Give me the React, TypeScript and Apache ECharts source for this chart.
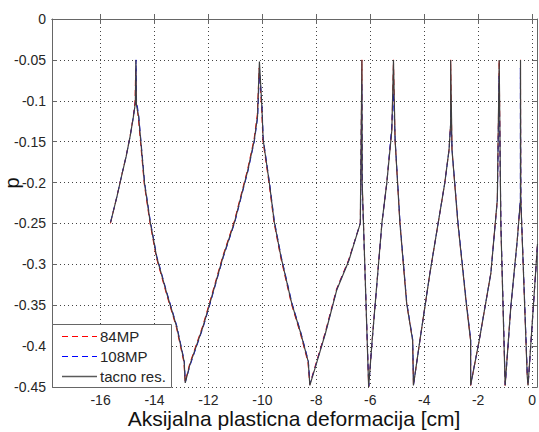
import React, { useEffect, useRef } from "react";
import * as echarts from "echarts";

const X_MIN = -17.8;
const X_MAX = 0.2;
const Y_MIN = -0.45;
const Y_MAX = 0;
const xTickValues = [-16, -14, -12, -10, -8, -6, -4, -2, 0];
const xTitle = "Aksijalna plasticna deformacija [cm]";
const yTitle = "p";
const legendNames = ["84MP", "108MP", "tacno res."];

const tacno: number[][] = [
  [-15.63, -0.249], [-15.39, -0.217], [-15.2, -0.189], [-15.05, -0.168], [-14.9, -0.143], [-14.78, -0.119],
  [-14.71, -0.103], [-14.69, -0.05], [-14.67, -0.105], [-14.59, -0.119], [-14.37, -0.201],
  [-14.16, -0.248], [-13.92, -0.291], [-13.55, -0.335], [-13.18, -0.376], [-12.9, -0.419],
  [-12.86, -0.445], [-12.69, -0.423], [-12.2, -0.376], [-11.95, -0.348], [-11.46, -0.291],
  [-11.03, -0.248], [-10.79, -0.217], [-10.54, -0.185], [-10.3, -0.148], [-10.18, -0.119],
  [-10.11, -0.052], [-10.02, -0.107], [-9.97, -0.148], [-9.74, -0.201], [-9.56, -0.248],
  [-9.31, -0.291], [-8.91, -0.348], [-8.58, -0.384], [-8.3, -0.419], [-8.24, -0.448],
  [-8.03, -0.425], [-7.66, -0.384], [-7.24, -0.331], [-6.8, -0.296], [-6.37, -0.25],
  [-6.31, -0.05], [-6.3, -0.2], [-6.06, -0.45], [-5.94, -0.397], [-5.57, -0.25],
  [-5.39, -0.201], [-5.2, -0.136], [-5.14, -0.05], [-5.08, -0.148], [-4.9, -0.25],
  [-4.65, -0.348], [-4.43, -0.393], [-4.4, -0.448], [-4.16, -0.393], [-3.79, -0.311],
  [-3.24, -0.201], [-3.08, -0.16], [-3.02, -0.128], [-3.02, -0.05], [-2.97, -0.16],
  [-2.75, -0.25], [-2.44, -0.348], [-2.28, -0.393], [-2.28, -0.448], [-1.96, -0.393],
  [-1.53, -0.311], [-1.29, -0.221], [-1.22, -0.05], [-1.16, -0.25], [-1.0, -0.448],
  [-0.79, -0.352], [-0.55, -0.27], [-0.43, -0.221], [-0.43, -0.05], [-0.42, -0.22],
  [-0.18, -0.437], [-0.15, -0.448], [0.16, -0.295], [0.2, -0.275],
];

const mp84: number[][] = [
  [-15.635, -0.25], [-15.4, -0.218], [-15.21, -0.19], [-15.06, -0.169], [-14.91, -0.144], [-14.79, -0.12],
  [-14.72, -0.1], [-14.7, -0.06], [-14.68, -0.1], [-14.6, -0.121], [-14.38, -0.202],
  [-14.17, -0.249], [-13.93, -0.292], [-13.56, -0.336], [-13.19, -0.377], [-12.91, -0.42],
  [-12.865, -0.444], [-12.7, -0.422], [-12.21, -0.375], [-11.96, -0.347], [-11.47, -0.29],
  [-11.04, -0.247], [-10.8, -0.216], [-10.55, -0.184], [-10.31, -0.147], [-10.19, -0.117],
  [-10.12, -0.06], [-10.03, -0.108], [-9.98, -0.149], [-9.75, -0.202], [-9.57, -0.249],
  [-9.32, -0.292], [-8.92, -0.349], [-8.59, -0.385], [-8.31, -0.42], [-8.245, -0.447],
  [-8.04, -0.424], [-7.67, -0.383], [-7.25, -0.33], [-6.81, -0.295], [-6.37, -0.25],
  [-6.31, -0.05], [-6.3, -0.2], [-6.06, -0.45], [-5.94, -0.397], [-5.57, -0.25],
  [-5.39, -0.201], [-5.2, -0.136], [-5.14, -0.05], [-5.08, -0.148], [-4.9, -0.25],
  [-4.65, -0.348], [-4.43, -0.393], [-4.4, -0.448], [-4.16, -0.393], [-3.79, -0.311],
  [-3.24, -0.201], [-3.08, -0.16], [-3.02, -0.128], [-3.02, -0.05], [-2.97, -0.16],
  [-2.75, -0.25], [-2.44, -0.348], [-2.28, -0.393], [-2.28, -0.448], [-1.96, -0.393],
  [-1.53, -0.311], [-1.29, -0.221], [-1.22, -0.05], [-1.16, -0.25], [-1.0, -0.448],
  [-0.79, -0.352], [-0.55, -0.27], [-0.43, -0.221], [-0.43, -0.05], [-0.42, -0.22],
  [-0.18, -0.437], [-0.15, -0.448], [0.16, -0.295], [0.2, -0.275],
];

const mp108: number[][] = [
  [-15.625, -0.248], [-15.385, -0.216], [-15.195, -0.188], [-15.045, -0.167], [-14.895, -0.142], [-14.775, -0.118],
  [-14.7, -0.1], [-14.685, -0.05], [-14.665, -0.1], [-14.585, -0.118], [-14.365, -0.2],
  [-14.155, -0.247], [-13.915, -0.29], [-13.545, -0.334], [-13.175, -0.375], [-12.895, -0.418],
  [-12.855, -0.444], [-12.685, -0.424], [-12.195, -0.377], [-11.945, -0.349], [-11.455, -0.292],
  [-11.025, -0.249], [-10.785, -0.218], [-10.535, -0.186], [-10.295, -0.149], [-10.175, -0.12],
  [-10.105, -0.062], [-10.015, -0.106], [-9.965, -0.147], [-9.735, -0.2], [-9.555, -0.247],
  [-9.305, -0.29], [-8.905, -0.347], [-8.575, -0.383], [-8.295, -0.418], [-8.235, -0.446],
  [-8.025, -0.424], [-7.655, -0.383], [-7.235, -0.33], [-6.795, -0.295], [-6.365, -0.249],
  [-6.315, -0.08], [-6.295, -0.21], [-6.055, -0.449], [-5.935, -0.396], [-5.565, -0.249],
  [-5.385, -0.2], [-5.205, -0.132], [-5.145, -0.09], [-5.075, -0.149], [-4.895, -0.249],
  [-4.645, -0.347], [-4.425, -0.392], [-4.395, -0.447], [-4.155, -0.392], [-3.785, -0.31],
  [-3.235, -0.2], [-3.075, -0.159], [-3.025, -0.13], [-3.025, -0.11], [-2.965, -0.161],
  [-2.745, -0.249], [-2.435, -0.347], [-2.275, -0.392], [-2.275, -0.447], [-1.955, -0.392],
  [-1.525, -0.31], [-1.285, -0.22], [-1.225, -0.07], [-1.155, -0.251], [-0.995, -0.447],
  [-0.785, -0.351], [-0.545, -0.269], [-0.435, -0.22], [-0.435, -0.06], [-0.415, -0.221],
  [-0.175, -0.436], [-0.145, -0.447], [0.165, -0.294], [0.2, -0.276],
];

const FONT = "Liberation Sans, Arial, Helvetica, sans-serif";
const AXIS_COLOR = "#666666";
const TEXT_COLOR = "#262626";

export default function App() {
  const ref = useRef<HTMLDivElement>(null);

  useEffect(() => {
    if (!ref.current) return;
    const chart = echarts.init(ref.current, undefined, { renderer: "svg" });

    const baseX = {
      type: "value",
      min: X_MIN,
      max: X_MAX,
      gridIndex: 0,
      axisLine: { show: true, lineStyle: { color: AXIS_COLOR, width: 1 } },
      axisTick: { show: true, inside: true, length: 5, customValues: xTickValues, lineStyle: { color: AXIS_COLOR } },
      splitLine: { show: false },
    };
    const baseY = {
      type: "value",
      min: Y_MIN,
      max: Y_MAX,
      interval: 0.05,
      gridIndex: 0,
      axisLine: { show: true, onZero: false, lineStyle: { color: AXIS_COLOR, width: 1 } },
      axisTick: { show: true, inside: true, length: 5, lineStyle: { color: AXIS_COLOR } },
      splitLine: { show: false },
    };

    const legendRows = [
      { name: legendNames[0], color: "#ff0000", dash: [6, 4], y: 336.5 },
      { name: legendNames[1], color: "#0000ff", dash: [6, 4], y: 356.5 },
      { name: legendNames[2], color: "#5a5a5a", dash: null, y: 376.5 },
    ];

    const graphic: any[] = [
      {
        type: "rect",
        z: 100,
        shape: { x: 52.5, y: 324.5, width: 119, height: 63 },
        style: { fill: "#ffffff", stroke: AXIS_COLOR, lineWidth: 1 },
      },
      ...legendRows.flatMap((r) => [
        {
          type: "line",
          z: 101,
          shape: { x1: 62, y1: r.y, x2: 97, y2: r.y },
          style: { stroke: r.color, lineWidth: r.dash ? 1 : 1.5, lineDash: r.dash || undefined },
        },
        {
          type: "text",
          z: 101,
          x: 100,
          y: r.y,
          style: { text: r.name, fill: TEXT_COLOR, font: `15px ${FONT}`, textAlign: "left", textVerticalAlign: "middle" },
        },
      ]),
      {
        type: "text",
        z: 101,
        x: 294,
        y: 418,
        style: { text: xTitle, fill: "#111111", font: `21px ${FONT}`, textAlign: "center", textVerticalAlign: "middle" },
      },
      {
        type: "text",
        z: 101,
        x: 12,
        y: 183,
        rotation: Math.PI / 2,
        style: { text: yTitle, fill: "#111111", font: `20px ${FONT}`, textAlign: "center", textVerticalAlign: "middle" },
      },
    ];

    chart.setOption({
      animation: false,
      backgroundColor: "#ffffff",
      textStyle: { fontFamily: FONT },
      grid: { left: 52, right: -1, top: 19, bottom: 45, containLabel: false },
      xAxis: [
        {
          ...baseX,
          position: "bottom",
          axisLabel: { show: true, customValues: xTickValues, margin: 6, color: TEXT_COLOR, fontSize: 14, fontFamily: FONT },
          splitLine: { show: true, lineStyle: { color: "#444444", type: [1, 3], width: 1 } },
        },
        {
          ...baseX,
          position: "top",
          axisLabel: { show: false },
        },
      ],
      yAxis: [
        {
          ...baseY,
          position: "left",
          axisLabel: { show: true, margin: 6, color: TEXT_COLOR, fontSize: 14, fontFamily: FONT },
          splitLine: { show: true, lineStyle: { color: "#444444", type: [1, 3], width: 1 } },
        },
        {
          ...baseY,
          position: "right",
          axisLabel: { show: false },
        },
      ],
      series: [
        {
          name: legendNames[0],
          type: "line",
          xAxisIndex: 0,
          yAxisIndex: 0,
          data: mp84,
          symbol: "none",
          showSymbol: false,
          lineStyle: { color: "#ff0000", width: 1, type: [6, 4] },
          z: 2,
        },
        {
          name: legendNames[1],
          type: "line",
          xAxisIndex: 0,
          yAxisIndex: 0,
          data: mp108,
          symbol: "none",
          showSymbol: false,
          lineStyle: { color: "#0000ff", width: 1, type: [6, 4] },
          z: 3,
        },
        {
          name: legendNames[2],
          type: "line",
          xAxisIndex: 0,
          yAxisIndex: 0,
          data: tacno,
          symbol: "none",
          showSymbol: false,
          lineStyle: { color: "#404040", width: 1.2 },
          z: 4,
        },
      ],
      graphic,
    });

    return () => chart.dispose();
  }, []);

  return (
    <div
      ref={ref}
      style={{ position: "fixed", left: 0, top: 0, width: 539, height: 432, background: "#ffffff" }}
    />
  );
}
